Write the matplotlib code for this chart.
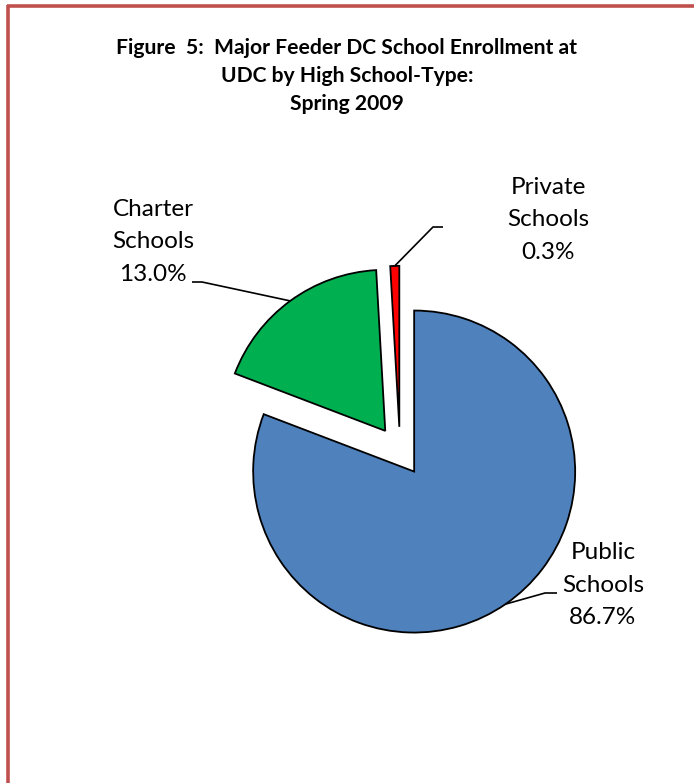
import numpy as np
import matplotlib
matplotlib.use("Agg")
import matplotlib.pyplot as plt

# wedge sizes as drawn (the printed labels come from the source table)
categories = ["Public Schools", "Charter Schools", "Private Schools"]
wedge_share = [80.8, 18.3, 0.9]
pct_labels = ["86.7%", "13.0%", "0.3%"]
colors = ["#4F81BD", "#00B050", "#FF0000"]

title = "Figure  5:  Major Feeder DC School Enrollment at\nUDC by High School-Type:\nSpring 2009"

W, H = 694, 783
fig = plt.figure(figsize=(W / 100, H / 100), dpi=100)
ax = fig.add_axes([0, 0, 1, 1])
ax.axis("off")

plt.rcParams["font.family"] = ["Lato", "DejaVu Sans"]

center = (400, 332)
radius = 161
# explode is in data units when radius != 1
explode = [0.155 * radius, 0.155 * radius, 0.15 * radius]
wedges, _ = ax.pie(wedge_share, colors=colors, startangle=90, counterclock=False,
                   center=center, radius=radius, explode=explode,
                   wedgeprops=dict(edgecolor="black", linewidth=1.3))
ax.set_xlim(0, W)
ax.set_ylim(0, H)

# label text centre and elbow of leader line
label_pos = [(603, 198), (153, 541), (548, 563)]
elbows = [[(545, 190), (557, 190)], [(202, 501), (192, 501)], [(433, 556), (443, 556)]]

for w, name, pct, pos, elb in zip(wedges, categories, pct_labels, label_pos, elbows):
    mid = np.deg2rad((w.theta1 + w.theta2) / 2)
    cx, cy = w.center
    arc_pt = (cx + radius * np.cos(mid), cy + radius * np.sin(mid))
    xs = [arc_pt[0]] + [p[0] for p in elb]
    ys = [arc_pt[1]] + [p[1] for p in elb]
    ax.plot(xs, ys, color="black", lw=1.2, solid_capstyle="butt")
    ax.text(pos[0], pos[1], name.replace(" ", "\n") + "\n" + pct, ha="center", va="center",
            fontsize=17.5, linespacing=1.68, color="black")

ax.text(347, H - 76, title, ha="center", va="center", fontsize=15.2,
        fontweight="bold", linespacing=1.5)

# frame
ax.plot([7, W], [H - 6, H - 6], color="#C0504D", lw=2.6, solid_capstyle="butt")
ax.plot([8.5, 8.5], [H - 4.5, 0], color="#C0504D", lw=2.6, solid_capstyle="butt")

fig.savefig("out.png", dpi=100)
